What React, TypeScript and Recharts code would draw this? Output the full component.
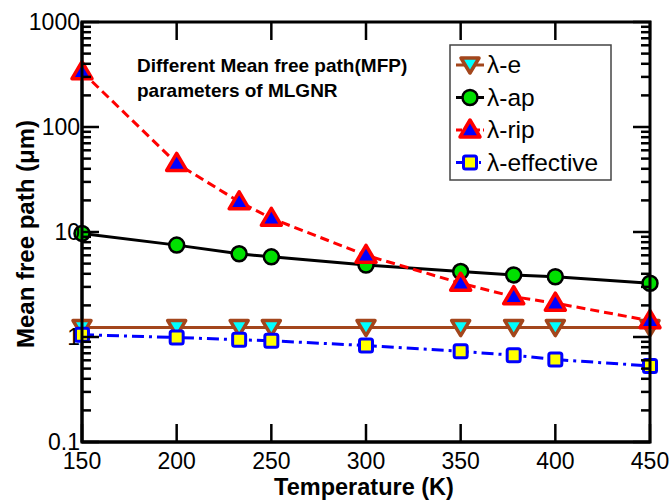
import React from 'react'
import { LineChart, Line, XAxis, YAxis } from 'recharts'

/* ---------------- data ---------------- */

const temperatures = [150, 200, 233, 250, 300, 350, 378, 400, 450]
const lambdaE = [1.23, 1.23, 1.23, 1.23, 1.23, 1.23, 1.23, 1.23, 1.23]
const lambdaAp = [9.7, 7.5, 6.2, 5.8, 4.85, 4.2, 3.9, 3.75, 3.25]
const lambdaRip = [336, 45, 19.4, 13.5, 6.0, 3.25, 2.42, 2.1, 1.43]
const lambdaEff = [1.05, 0.99, 0.94, 0.92, 0.83, 0.73, 0.67, 0.61, 0.53]

const xTicks = [150, 200, 250, 300, 350, 400, 450]
const yDecades = [0.1, 1, 10, 100, 1000]
const yMinorSteps = [1, 2, 3, 4, 5, 6, 7, 8, 9]

const seriesNames = ['λ-e', 'λ-ap', 'λ-rip', 'λ-effective']
const noteLines = ['Different Mean free path(MFP)', 'parameters of MLGNR']

const yTicks = [
  ...yDecades.slice(0, -1).flatMap((d) => yMinorSteps.map((s) => d * s)),
  yDecades[yDecades.length - 1],
]

const chartData = temperatures.map((t, i) => ({
  t,
  e: lambdaE[i],
  ap: lambdaAp[i],
  rip: lambdaRip[i],
  eff: lambdaEff[i],
}))

/* ---------------- layout ---------------- */

const W = 670
const H = 501
const LEFT = 82
const RIGHT = 650
const TOP = 22
const BOTTOM = 442
const FONT = '"Liberation Sans", Arial, Helvetica, sans-serif'

const BROWN = '#a3461c'

/* ---------------- markers ---------------- */

function DownTriangle({ cx, cy }: { cx?: number; cy?: number }) {
  if (cx == null || cy == null) return null
  return (
    <polygon
      points={`${cx - 9},${cy - 7} ${cx + 9},${cy - 7} ${cx},${cy + 8}`}
      fill="#00ffff"
      stroke={BROWN}
      strokeWidth={3.5}
      strokeLinejoin="round"
    />
  )
}

function GreenCircle({ cx, cy }: { cx?: number; cy?: number }) {
  if (cx == null || cy == null) return null
  return <circle cx={cx} cy={cy} r={7.5} fill="#00e000" stroke="#000" strokeWidth={2.5} />
}

function UpTriangle({ cx, cy }: { cx?: number; cy?: number }) {
  if (cx == null || cy == null) return null
  return (
    <polygon
      points={`${cx},${cy - 10} ${cx + 10},${cy + 7} ${cx - 10},${cy + 7}`}
      fill="#0000ff"
      stroke="#ff0000"
      strokeWidth={3.5}
      strokeLinejoin="round"
    />
  )
}

function YellowSquare({ cx, cy }: { cx?: number; cy?: number }) {
  if (cx == null || cy == null) return null
  return (
    <rect x={cx - 6.5} y={cy - 6.5} width={13} height={13} rx={2} fill="#ffff00" stroke="#0000ff" strokeWidth={3} />
  )
}

const SERIES = [
  { key: 'e', color: BROWN, dash: undefined, legendDash: undefined, Marker: DownTriangle },
  { key: 'ap', color: '#000000', dash: undefined, legendDash: undefined, Marker: GreenCircle },
  { key: 'rip', color: '#ff0000', dash: '9 5', legendDash: '6 3', Marker: UpTriangle },
  { key: 'eff', color: '#0000ff', dash: '12 5 3 5', legendDash: '6 3 2 3', Marker: YellowSquare },
]

/* ---------------- ticks (left + mirrored right, bottom + mirrored top) ---------------- */

const isMajor = (v: number) => yDecades.includes(v)

function YTick(props: any) {
  const { y, payload } = props
  const v = payload.value as number
  const len = isMajor(v) ? 17 : 9
  return (
    <g>
      <path d={`M${LEFT - 1},${y}H${LEFT + len}`} stroke="#000" strokeWidth={2.5} fill="none" />
      <path d={`M${RIGHT + 1},${y}H${RIGHT - len}`} stroke="#000" strokeWidth={2.5} fill="none" />
      {isMajor(v) && (
        <text x={80} y={y + 8} textAnchor="end" fontFamily={FONT} fontSize={23} fill="#000">
          {String(v)}
        </text>
      )}
    </g>
  )
}

function XTick(props: any) {
  const { x, payload } = props
  return (
    <g>
      <path d={`M${x},${BOTTOM + 1}V${BOTTOM - 18}`} stroke="#000" strokeWidth={2.5} fill="none" />
      <path d={`M${x},${TOP - 1}V${TOP + 18}`} stroke="#000" strokeWidth={2.5} fill="none" />
      <text x={x} y={BOTTOM + 27} textAnchor="middle" fontFamily={FONT} fontSize={23} fill="#000">
        {payload.value}
      </text>
    </g>
  )
}

/* ---------------- overlay: frame, titles, note, legend ---------------- */

function Overlay() {
  const legX = 450
  const legY = 45
  const rowH = 32.5
  return (
    <svg
      width={W}
      height={H}
      style={{ position: 'absolute', left: 0, top: 0, pointerEvents: 'none' }}
      fontFamily={FONT}
    >
      <rect x={LEFT} y={TOP} width={RIGHT - LEFT} height={BOTTOM - TOP} fill="none" stroke="#000" strokeWidth={3} />
      <text
        transform={`translate(34, ${(TOP + BOTTOM) / 2 + 2}) rotate(-90)`}
        textAnchor="middle"
        fontSize={24}
        fontWeight="bold"
        fill="#000"
      >
        Mean free path (μm)
      </text>
      <text x={(LEFT + RIGHT) / 2 - 2} y={495} textAnchor="middle" fontSize={23.5} fontWeight="bold" fill="#000">
        Temperature (K)
      </text>
      {noteLines.map((line, i) => (
        <text key={line} x={137} y={72 + i * 25} fontSize={19} fontWeight="bold" fill="#000">
          {line}
        </text>
      ))}
      <rect x={legX} y={legY} width={161} height={135} fill="#fff" stroke="#444" strokeWidth={1.5} />
      {SERIES.map((s, i) => {
        const cy = legY + 20 + i * rowH
        const M = s.Marker
        return (
          <g key={s.key}>
            <line
              x1={legX + 6}
              x2={legX + 34}
              y1={cy}
              y2={cy}
              stroke={s.color}
              strokeWidth={3}
              strokeDasharray={s.legendDash}
            />
            <M cx={legX + 20} cy={cy} />
            <text x={legX + 37} y={cy + 8} fontSize={24.5} fill="#000">
              {seriesNames[i]}
            </text>
          </g>
        )
      })}
    </svg>
  )
}

/* ---------------- chart ---------------- */

export default function App() {
  return (
    <div style={{ position: 'absolute', left: 0, top: 0, width: W, height: H }}>
      <LineChart
        width={W}
        height={H}
        data={chartData}
        margin={{ top: TOP, right: W - RIGHT, bottom: H - BOTTOM - 30, left: LEFT - 40 }}
      >
        <XAxis
          dataKey="t"
          type="number"
          domain={[150, 450]}
          ticks={xTicks}
          interval={0}
          height={30}
          tickSize={0}
          tick={<XTick />}
          axisLine={{ stroke: '#000', strokeWidth: 3 }}
        />
        <YAxis
          scale="log"
          type="number"
          domain={[0.1, 1000]}
          ticks={yTicks}
          interval={0}
          width={40}
          tickSize={0}
          tick={<YTick />}
          axisLine={{ stroke: '#000', strokeWidth: 3 }}
        />
        {SERIES.map((s) => (
          <Line
            key={s.key}
            dataKey={s.key}
            stroke={s.color}
            strokeWidth={3}
            strokeDasharray={s.dash}
            dot={(p: any) => <s.Marker key={`${s.key}-${p.index}`} cx={p.cx} cy={p.cy} />}
            activeDot={false}
            isAnimationActive={false}
          />
        ))}
      </LineChart>
      <Overlay />
    </div>
  )
}
